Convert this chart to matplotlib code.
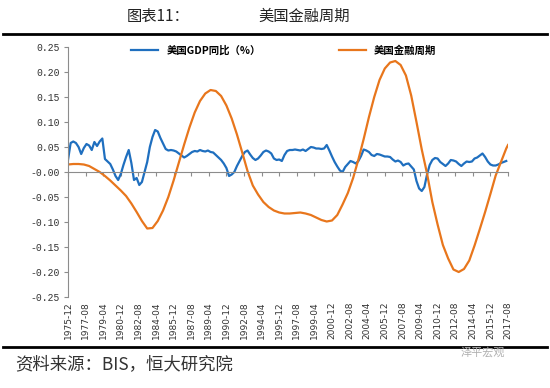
import numpy as np
import matplotlib.pyplot as plt
from matplotlib.lines import Line2D

plt.rcParams['font.family'] = ['Noto Sans CJK SC', 'DejaVu Sans']

# x axis: months since 1975-12
tick_labels = ['1975-12', '1977-08', '1979-04', '1980-12', '1982-08', '1984-04',
               '1985-12', '1987-08', '1989-04', '1990-12', '1992-08', '1994-04',
               '1995-12', '1997-08', '1999-04', '2000-12', '2002-08', '2004-04',
               '2005-12', '2007-08', '2009-04', '2010-12', '2012-08', '2014-04',
               '2015-12', '2017-08']
tick_months = np.arange(0, 501, 20)

# 美国GDP同比, quarterly from 1975-12
gdp_months = np.arange(0, 499, 3)
gdp = [0.024, 0.058, 0.061, 0.058, 0.050, 0.036, 0.048, 0.056,
       0.053, 0.044, 0.060, 0.052, 0.061, 0.067, 0.026, 0.021,
       0.016, 0.005, -0.008, -0.016, -0.004, 0.014, 0.030, 0.044,
       0.018, -0.016, -0.012, -0.026, -0.020, 0.000, 0.020, 0.050,
       0.070, 0.084, 0.081, 0.068, 0.057, 0.046, 0.043, 0.044,
       0.043, 0.041, 0.037, 0.033, 0.029, 0.032, 0.036, 0.040,
       0.042, 0.041, 0.044, 0.042, 0.041, 0.043, 0.040, 0.039,
       0.034, 0.029, 0.024, 0.017, 0.008, -0.008, -0.005, 0.000,
       0.012, 0.022, 0.032, 0.040, 0.043, 0.035, 0.028, 0.024,
       0.027, 0.033, 0.040, 0.043, 0.041, 0.037, 0.027, 0.024,
       0.025, 0.022, 0.034, 0.042, 0.044, 0.044, 0.045, 0.044,
       0.043, 0.045, 0.042, 0.046, 0.050, 0.049, 0.047, 0.047,
       0.046, 0.047, 0.054, 0.043, 0.031, 0.020, 0.011, 0.003,
       0.000, 0.010, 0.016, 0.022, 0.020, 0.017, 0.022, 0.032,
       0.045, 0.043, 0.040, 0.034, 0.032, 0.036, 0.035, 0.033,
       0.031, 0.031, 0.030, 0.025, 0.021, 0.023, 0.020, 0.013,
       0.016, 0.017, 0.011, 0.005, -0.018, -0.033, -0.038, -0.030,
       -0.005, 0.014, 0.024, 0.028, 0.027, 0.020, 0.016, 0.012,
       0.017, 0.024, 0.023, 0.021, 0.016, 0.012, 0.017, 0.021,
       0.020, 0.021, 0.027, 0.029, 0.033, 0.037, 0.030, 0.021,
       0.015, 0.013, 0.013, 0.015, 0.018, 0.020, 0.022]

# 美国金融周期, half-yearly from 1975-12 (last point 2017-08)
fc_months = list(range(0, 499, 6)) + [500]
fin_cycle = [0.015, 0.016, 0.016, 0.015, 0.012, 0.006, 0.000, -0.008,
             -0.017, -0.027, -0.037, -0.048, -0.063, -0.080, -0.098, -0.113,
             -0.112, -0.098, -0.077, -0.050, -0.017, 0.019, 0.055, 0.089,
             0.119, 0.142, 0.157, 0.164, 0.162, 0.152, 0.133, 0.107,
             0.075, 0.039, 0.002, -0.027, -0.045, -0.060, -0.070, -0.077,
             -0.081, -0.083, -0.083, -0.082, -0.081, -0.083, -0.086, -0.091,
             -0.096, -0.099, -0.097, -0.086, -0.065, -0.042, -0.012, 0.025,
             0.066, 0.110, 0.150, 0.184, 0.207, 0.219, 0.222, 0.214,
             0.193, 0.153, 0.100, 0.045, -0.003, -0.060, -0.105, -0.146,
             -0.173, -0.195, -0.200, -0.194, -0.177, -0.147, -0.114, -0.080,
             -0.044, -0.007, 0.020, 0.047, 0.054]

blue = '#1f6fbf'
orange = '#e8761c'
grey = '#8c8c8c'

fig = plt.figure(figsize=(5.5, 3.88), dpi=100)
ax = fig.add_axes([68/550, 1-297/388, 440/550, 250/388])

ax.plot(gdp_months, gdp, color=blue, lw=1.6, label='美国GDP同比（%）')
ax.plot(fc_months, fin_cycle, color=orange, lw=1.6, label='美国金融周期')

ax.set_xlim(0, 500)
ax.set_ylim(-0.25, 0.25)
yt = np.round(np.arange(-0.25, 0.251, 0.05), 2)
ax.set_yticks(yt)
ax.set_yticklabels(['%.2f' % v for v in yt], family='Liberation Mono', fontsize=7, color='#333333')
ax.tick_params(axis='y', length=3, color=grey, direction='out', pad=3)

# category axis crosses at zero, labels stay at the bottom
for s in ['top', 'right']:
    ax.spines[s].set_visible(False)
ax.spines['left'].set_color(grey)
ax.spines['bottom'].set_position(('data', 0))
ax.spines['bottom'].set_color(grey)
ax.set_xticks(tick_months)
ax.tick_params(axis='x', length=3, color=grey, direction='out', labelbottom=False)

sec = ax.secondary_xaxis(0.0)
sec.set_xticks(tick_months)
sec.set_xticklabels(tick_labels, rotation=90, fontsize=6.5, color='#333333', family='DejaVu Sans')
sec.tick_params(axis='x', length=0, pad=3)
sec.spines['bottom'].set_visible(False)

ax.legend(loc='upper center', bbox_to_anchor=(0.49, 1.045), ncol=2, frameon=False,
          handlelength=2.6, columnspacing=7.5, prop={'weight': 'bold', 'size': 7.5})

fig.text(127/550, 1-16/388, '图表11：', fontsize=11, va='center', ha='left', color='#222222')
fig.text(258/550, 1-16/388, '美国金融周期', fontsize=11, va='center', ha='left', color='#222222')
fig.add_artist(Line2D([3/550, 547/550], [1-34/388, 1-34/388], color='black', lw=2))
fig.add_artist(Line2D([3/550, 547/550], [1-347/388, 1-347/388], color='black', lw=2))

fig.text(15/550, 1-364/388, '资料来源：BIS，恒大研究院', fontsize=12.5, va='center', ha='left',
         color='#333333', style='italic')
fig.text(505/550, 1-352/388, '泽平宏观', fontsize=8, va='center', ha='right', color='#b0b0b0')

fig.savefig('out.png', dpi=100)
